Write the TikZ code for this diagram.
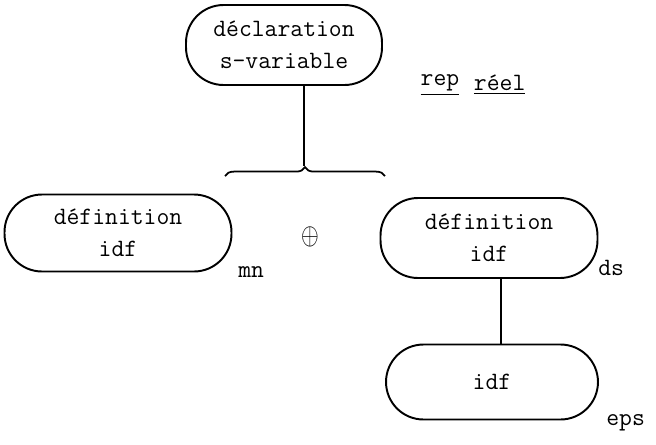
\documentclass[tikz,border=0pt]{standalone}
\usepackage{tikz}
\usetikzlibrary{decorations.pathreplacing, positioning, calc}

\tikzset{
    bloc/.style={draw, line width=1.1pt, rounded corners=0.75cm, align=center,
        font=\ttfamily\fontsize{14.2}{18}\selectfont},
    etiq/.style={font=\ttfamily\fontsize{14.2}{16}\selectfont, inner sep=0pt}
}

\begin{document}
\begin{tikzpicture}[x=0.02cm, y=-0.02cm]
        \useasboundingbox (0,0) rectangle (656,444);
        % Declaration
        \node[bloc, minimum width=3.92cm, minimum height=1.6cm] (decl) at (284,45) {déclaration\\s-variable};
        \node[etiq] (rep) at (440,85) {\underline{rep}};
        \node[etiq, right=0.28cm of rep.east, anchor=west] (reel) {\underline{réel}};
        % Brace
        \coordinate (bg) at (225,176);
        \coordinate (bd) at (385,176);
        \coordinate (tip) at (304,166);
        \draw[line width=1pt] (decl.south -| tip) -- (tip);
        \draw[line width=1pt, decorate, decoration={brace, amplitude=5pt, aspect=0.5}] (bg) -- (bd);
        % Left definition
        \node[bloc, minimum width=4.54cm, minimum height=1.54cm] (defg) at (118,233) {définition\\idf};
        \node[etiq, anchor=west] (mn) at (238,272) {mn};
        % Choice
        \node[inner sep=0pt, font=\Large, xscale=0.9, yscale=1.2] (plus) at (310,237) {$\oplus$};
        % Right definition
        \node[bloc, minimum width=4.34cm, minimum height=1.6cm] (defd) at (489,238) {définition\\idf};
        \node[etiq, anchor=west] (ds) at (598,268) {ds};
        \node[bloc, minimum width=4.24cm, minimum height=1.5cm] (idf) at (492,382) {idf};
        \node[etiq, anchor=west] (eps) at (606,423) {eps};
        \draw[line width=1.1pt] ([xshift=0.24cm]defd.south) -- ([xshift=0.24cm]defd.south |- idf.north);
    \end{tikzpicture}
\end{document}
